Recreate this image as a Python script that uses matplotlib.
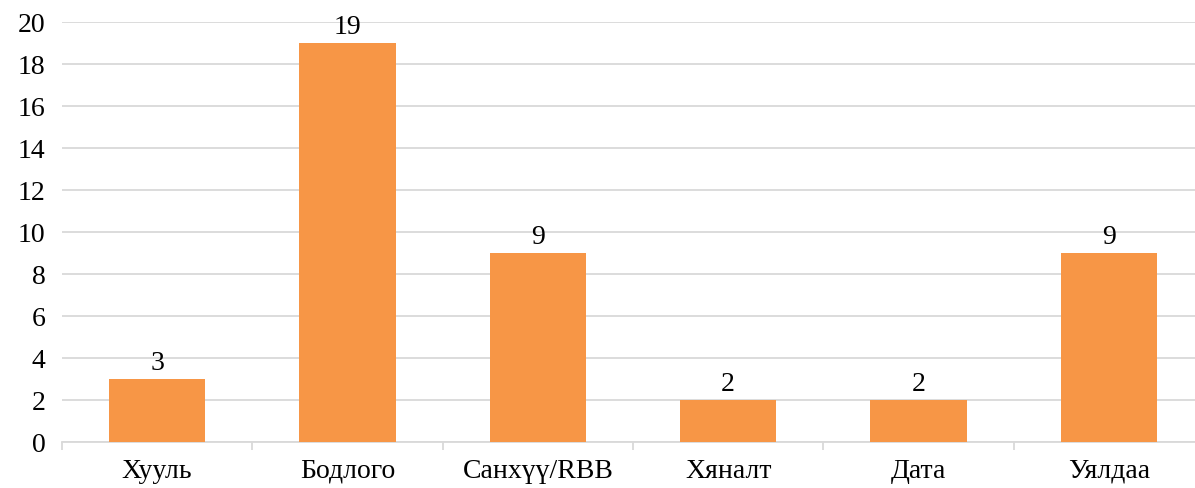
import matplotlib.pyplot as plt
import numpy as np

categories = ['Хууль', 'Бодлого', 'Санхүү/RBB', 'Хяналт', 'Дата', 'Уялдаа']
values = [3, 19, 9, 2, 2, 9]

plt.rcParams['font.family'] = ['Liberation Serif', 'DejaVu Serif']

fig = plt.figure(figsize=(11.95, 4.88), dpi=100)
ax = fig.add_axes([62 / 1195, 46 / 488, 1142 / 1195, 420 / 488])

x = np.arange(len(categories))
bars = ax.bar(x, values, width=0.505, color='#F79646', zorder=3)
for b, v in zip(bars, values):
    ax.text(b.get_x() + b.get_width() / 2, v + 0.15, str(v), ha='center', va='bottom',
            fontsize=20, color='black')

ax.set_xlim(-0.5, len(categories) - 0.5)
ax.set_ylim(0, 20)
ax.set_yticks(range(0, 21, 2))
ax.yaxis.grid(True, color='#D9D9D9', linewidth=1.3, zorder=0)
ax.set_axisbelow(True)

ax.set_xticks(x)
ax.set_xticklabels(categories)
ax.set_xticks(np.arange(-0.5, len(categories)), minor=True)
ax.tick_params(axis='x', which='major', length=0, pad=12, labelsize=20)
ax.tick_params(axis='x', which='minor', length=6, color='#D9D9D9', width=1.3)
ax.tick_params(axis='y', length=0, pad=12, labelsize=20)

for s in ['top', 'right', 'left']:
    ax.spines[s].set_visible(False)
ax.spines['bottom'].set_color('#D9D9D9')
ax.spines['bottom'].set_linewidth(1.3)

fig.savefig('out.png', dpi=100)
